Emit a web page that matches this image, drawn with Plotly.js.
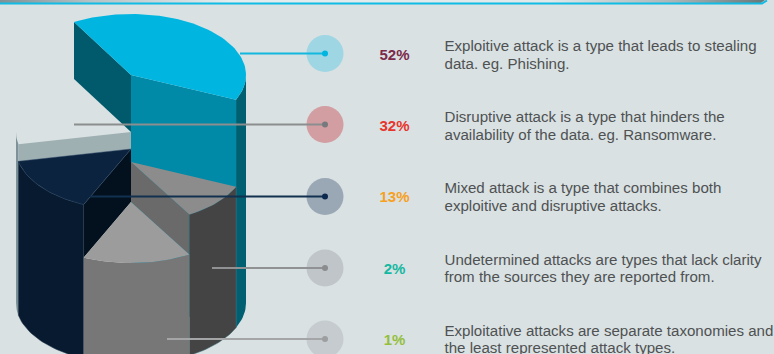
<!DOCTYPE html>
<html>
<head>
<meta charset="utf-8">
<script src="https://cdn.plot.ly/plotly-3.0.1.min.js"></script>
<style>html,body{margin:0;padding:0;background:#d9e1e3;overflow:hidden}</style>
</head>
<body>
<div id="chart" style="width:774px;height:354px"></div>
<script>
// ---- chart content ----
const percents = ["52%", "32%", "13%", "2%", "1%"];
const percentColors = ["#7b2a4a", "#e8352b", "#f7a021", "#14b8a0", "#94bf3c"];
const line1 = [
  "Exploitive attack is a type that leads to stealing",
  "Disruptive attack is a type that hinders the",
  "Mixed attack is a type that combines both",
  "Undetermined attacks are types that lack clarity",
  "Exploitative attacks are separate taxonomies and"
];
const line2 = [
  "data. eg. Phishing.",
  "availability of the data. eg. Ransomware.",
  "exploitive and disruptive attacks.",
  "from the sources they are reported from.",
  "the least represented attack types."
];
// slices: sweep (degrees, clockwise) and the y of each slice's top centre
const sliceNames  = ["blue", "darkGray", "lightGray", "navy", "ghost"];
const sliceSweeps = [143.7, 35.5, 54.8, 54, 72];
const sliceTopY   = [75, 162, 202, 149, 132];

// ---- layout constants ----
const CX = 131, RX = 115, RY = 61, BASE_Y = 303, START = 119.7;
const rowY = [53.5, 124.5, 196.5, 268, 339];
const percentY = [56, 127, 198, 270.5, 341.5];
const line1Y = [47.5, 118.5, 189.5, 261, 332];
const line2Y = [65.5, 136.5, 207, 278.5, 349.5];
const leaderStart = [240, 74, 90, 212, 167];
const haloColors = ["#9fd6e4", "#d29ea2", "#9aa8b6", "#bfc5c8", "#c5cbce"];
const dotColors  = ["#00b5e0", "#777a7c", "#0c2a4e", "#8a8c8e", "#9c9e9f"];
const leaderColors = ["#12b8de", "#8b8d8e", "#12304f", "#8f9192", "#a3a5a6"];

// ---- geometry helpers: everything goes through the x/y axes ----
const edges = [START];
sliceSweeps.forEach(s => edges.push(edges[edges.length - 1] - s));
const rad = d => d * Math.PI / 180;
const px = t => CX + RX * Math.cos(rad(t));
const py = (t, c) => c - RY * Math.sin(rad(t));
function arc(t0, t1, c) {
  const n = Math.max(2, Math.ceil(Math.abs(t1 - t0) / 2));
  const xs = [], ys = [];
  for (let i = 0; i <= n; i++) {
    const t = t0 + (t1 - t0) * i / n;
    xs.push(px(t)); ys.push(py(t, c));
  }
  return [xs, ys];
}
function poly(xs, ys, color, edge) {
  return {
    x: xs.concat([xs[0]]), y: ys.concat([ys[0]]),
    mode: "lines", fill: "toself", fillcolor: color,
    line: edge ? {color: edge, width: 0.5} : {width: 0, color: color},
    hoverinfo: "skip", showlegend: false
  };
}
function topFace(t0, t1, c, color, edge) {
  const a = arc(t0, t1, c);
  return poly([CX].concat(a[0]), [c].concat(a[1]), color, edge);
}
function outerFace(t0, t1, c, color, edge) {
  const top = arc(t0, t1, c), bot = arc(t1, t0, BASE_Y);
  return poly(top[0].concat(bot[0]), top[1].concat(bot[1]), color, edge);
}
function radialFace(t, c, h, color, edge) {
  return poly([CX, px(t), px(t), CX], [c, py(t, c), py(t, c) + h, c + h], color, edge);
}

const [tBlue0, tBlue1, tDark1, tLight1, tNavy1] = edges;
const cBlue = sliceTopY[0], cDark = sliceTopY[1], cLight = sliceTopY[2], cNavy = sliceTopY[3], cGhost = sliceTopY[4];

const traces = [];

// top band
const bandX = [0, 756, 761, 765, 761, 0];
const bandY = [0, 0, 0, 0, 3, 3];
traces.push({
  x: bandX, y: bandY, mode: "lines", fill: "toself",
  fillgradient: {type: "horizontal", colorscale: [
    [0, "#7f9196"], [0.12, "#b5c3c6"], [0.3, "#e4eced"], [0.72, "#e0e8e9"], [0.88, "#a9b6b8"], [1, "#66777a"]
  ]},
  line: {width: 0, color: "#7f9196"}, hoverinfo: "skip", showlegend: false
});
traces.push({
  x: [0, 756, 762, 767], y: [3.5, 3.5, 3.5, 0.5], mode: "lines",
  line: {color: "#10bce4", width: 2}, hoverinfo: "skip", showlegend: false
});

// ghost slice: only its thin rim and radial wall are visible
traces.push(outerFace(tNavy1, -180, cGhost, "#7d9298"));
traces.push(radialFace(tNavy1, cGhost, cNavy - cGhost, "#9fb0b3"));

// blue slice
traces.push(radialFace(tBlue0, cBlue, cGhost - cBlue, "#005a6c"));
traces.push(outerFace(tBlue1, 0, cBlue, "#005f70"));
traces.push(radialFace(tBlue1, cBlue, BASE_Y - cBlue, "#008aa8"));
traces.push(topFace(tBlue0, tBlue1, cBlue, "#00b6e0"));

// navy slice
traces.push(radialFace(tLight1, cNavy, cLight - cNavy, "#03101e"));
traces.push(outerFace(tLight1, tNavy1, cNavy, "#071a30", "#1a3345"));
traces.push(topFace(tLight1, tNavy1, cNavy, "#0c2340", "#2a4660"));

// dark grey slice
traces.push(radialFace(tDark1, cDark, cLight - cDark, "#6a6a6a"));
traces.push(outerFace(tBlue1, tDark1, cDark, "#444444", "#3f6f7c"));
traces.push(topFace(tBlue1, tDark1, cDark, "#8c8c8c"));

// light grey slice
traces.push(outerFace(tDark1, tLight1, cLight, "#777777"));
traces.push(topFace(tDark1, tLight1, cLight, "#9c9c9c"));

// halos, leaders and dots
const rowX = rowY.map(() => 325);
traces.push({
  x: rowX, y: rowY, mode: "markers",
  marker: {size: 37, color: haloColors, line: {width: 0}},
  hoverinfo: "skip", showlegend: false
});
percents.forEach((p, i) => {
  traces.push({
    x: [leaderStart[i], 325], y: [rowY[i], rowY[i]], mode: "lines",
    line: {color: leaderColors[i], width: 1.9}, hoverinfo: "skip", showlegend: false
  });
});
traces.push({
  x: rowX, y: rowY, mode: "markers",
  marker: {size: 6, color: dotColors, line: {width: 0}},
  hoverinfo: "skip", showlegend: false
});

// labels
traces.push({
  x: rowY.map(() => 394.5), y: percentY, mode: "text", text: percents,
  textposition: "middle center", cliponaxis: false,
  textfont: {family: "Liberation Sans, Arial, sans-serif", size: 15, weight: 700, color: percentColors},
  hoverinfo: "skip", showlegend: false
});
const lineFont = {family: "Liberation Sans, Arial, sans-serif", size: 15.1, color: "#4f5152"};
traces.push({
  x: rowY.map(() => 444.5), y: line1Y, mode: "text", text: line1,
  textposition: "middle right", cliponaxis: true, textfont: lineFont,
  hoverinfo: "skip", showlegend: false
});
traces.push({
  x: rowY.map(() => 444.5), y: line2Y, mode: "text", text: line2,
  textposition: "middle right", cliponaxis: true, textfont: lineFont,
  hoverinfo: "skip", showlegend: false
});

const hiddenAxis = {visible: false, fixedrange: true, showgrid: false, zeroline: false};
Plotly.newPlot("chart", traces, {
  width: 774, height: 354,
  margin: {l: 0, r: 0, t: 0, b: 0},
  paper_bgcolor: "#d9e1e3", plot_bgcolor: "#d9e1e3",
  showlegend: false,
  xaxis: Object.assign({range: [0, 774]}, hiddenAxis),
  yaxis: Object.assign({range: [354, 0]}, hiddenAxis)
}, {displayModeBar: false, staticPlot: true});
</script>
</body>
</html>
